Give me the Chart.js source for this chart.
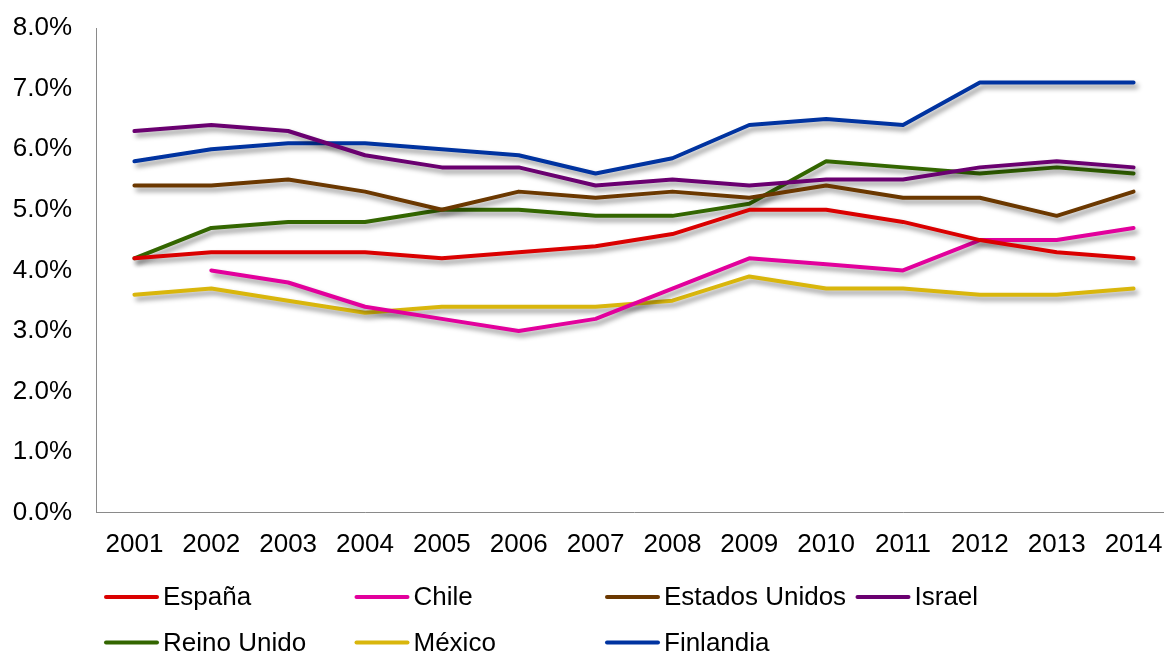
<!DOCTYPE html>
<html>
<head>
<meta charset="utf-8">
<script src="https://cdn.jsdelivr.net/npm/chart.js@4/dist/chart.umd.min.js"></script>
<style>
  html, body { margin: 0; padding: 0; background: #fff; overflow: hidden; }
  #c { display: block; width: 1172px; height: 652px; }
</style>
</head>
<body>
<canvas id="c" width="1172" height="652"></canvas>
<script>
const years = ['2001','2002','2003','2004','2005','2006','2007','2008','2009','2010','2011','2012','2013','2014'];
const yTicks = [0,1,2,3,4,5,6,7,8];

const espana        = [4.2, 4.3, 4.3, 4.3, 4.2, 4.3, 4.4, 4.6, 5.0, 5.0, 4.8, 4.5, 4.3, 4.2];
const chile         = [null, 4.0, 3.8, 3.4, 3.2, 3.0, 3.2, 3.7, 4.2, 4.1, 4.0, 4.5, 4.5, 4.7];
const estadosUnidos = [5.4, 5.4, 5.5, 5.3, 5.0, 5.3, 5.2, 5.3, 5.2, 5.4, 5.2, 5.2, 4.9, 5.3];
const israel        = [6.3, 6.4, 6.3, 5.9, 5.7, 5.7, 5.4, 5.5, 5.4, 5.5, 5.5, 5.7, 5.8, 5.7];
const reinoUnido    = [4.2, 4.7, 4.8, 4.8, 5.0, 5.0, 4.9, 4.9, 5.1, 5.8, 5.7, 5.6, 5.7, 5.6];
const mexico        = [3.6, 3.7, 3.5, 3.3, 3.4, 3.4, 3.4, 3.5, 3.9, 3.7, 3.7, 3.6, 3.6, 3.7];
const finlandia     = [5.8, 6.0, 6.1, 6.1, 6.0, 5.9, 5.6, 5.85, 6.4, 6.5, 6.4, 7.1, 7.1, 7.1];

const names  = ['España','Chile','Estados Unidos','Israel','Reino Unido','México','Finlandia'];
const series = [espana, chile, estadosUnidos, israel, reinoUnido, mexico, finlandia];
const colors = ['#DA0000','#E2009C','#6B3800','#6A0070','#336600','#D9B60C','#0033A0'];

const FONT = '"Liberation Sans", Arial, sans-serif';

const shadowPlugin = {
  id: 'lineShadow',
  beforeDatasetDraw(chart) {
    const ctx = chart.ctx;
    ctx.save();
    ctx.shadowColor = 'rgba(0,0,0,0.42)';
    ctx.shadowBlur = 5;
    ctx.shadowOffsetX = 3;
    ctx.shadowOffsetY = 4;
  },
  afterDatasetDraw(chart) {
    chart.ctx.restore();
  }
};

const gridLegend = {
  id: 'gridLegend',
  afterDraw(chart) {
    const ctx = chart.ctx;
    ctx.save();
    ctx.font = '26px ' + FONT;
    ctx.textBaseline = 'middle';
    ctx.textAlign = 'left';
    chart.data.datasets.forEach((ds, i) => {
      const col = i % 4, row = Math.floor(i / 4);
      const x = 106 + col * 250.5;
      const y = 597 + row * 45.5;
      ctx.strokeStyle = ds.borderColor;
      ctx.lineWidth = 4;
      ctx.lineCap = 'round';
      ctx.beginPath();
      ctx.moveTo(x, y);
      ctx.lineTo(x + 51, y);
      ctx.stroke();
      ctx.fillStyle = '#000';
      ctx.fillText(ds.label, x + 57, y + 1);
    });
    ctx.restore();
  }
};

new Chart(document.getElementById('c'), {
  type: 'line',
  data: {
    labels: years,
    datasets: names.map((n, i) => ({
      label: n,
      data: series[i],
      borderColor: colors[i],
      backgroundColor: colors[i],
      borderWidth: 4,
      pointRadius: 0,
      tension: 0,
      borderCapStyle: 'round',
      borderJoinStyle: 'round',
      spanGaps: false
    }))
  },
  options: {
    responsive: false,
    maintainAspectRatio: false,
    animation: false,
    devicePixelRatio: 1,
    layout: { padding: { left: 13, right: 0, top: 0, bottom: 76 } },
    plugins: {
      legend: { display: false },
      tooltip: { enabled: false }
    },
    scales: {
      x: {
        offset: true,
        afterFit(scale) { scale.paddingLeft = 0; scale.paddingRight = 0; },
        grid: { display: false, drawTicks: false },
        border: { display: true, color: '#8A8A8A', width: 1 },
        ticks: { color: '#000', font: { family: FONT, size: 26 }, padding: 16, maxRotation: 0, autoSkip: false }
      },
      y: {
        min: 0, max: 8,
        afterBuildTicks(scale) { scale.ticks = yTicks.map(v => ({ value: v })); },
        afterFit(scale) { scale.width = 83; scale.paddingTop = 28; scale.paddingBottom = 0; },
        grid: { display: false, drawTicks: false },
        border: { display: true, color: '#8A8A8A', width: 1 },
        ticks: {
          color: '#000', font: { family: FONT, size: 26 }, padding: 24,
          callback: v => v.toFixed(1) + '%'
        }
      }
    }
  },
  plugins: [shadowPlugin, gridLegend]
});
</script>
</body>
</html>
